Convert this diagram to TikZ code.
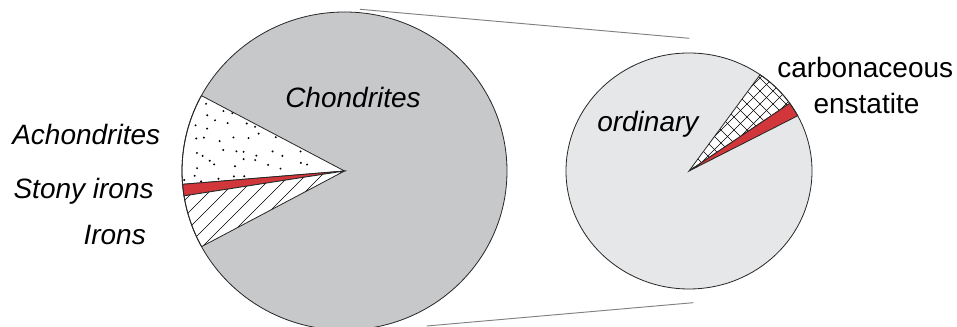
\documentclass[tikz,border=0pt]{standalone}
\usepackage{fontspec}
\setmainfont{Liberation Sans}
\definecolor{bigfill}{HTML}{C7C8CA}
\definecolor{smallfill}{HTML}{E6E7E8}
\definecolor{redfill}{HTML}{D0363A}
\begin{document}
\begin{tikzpicture}[x=0.75pt,y=0.75pt,
  outline/.style={draw=black!85,line width=0.6pt},
  zoomline/.style={draw=black!50,line width=0.7pt},
  hatchline/.style={draw=black,line width=0.45pt},
  lbl/.style={anchor=base west,inner sep=0pt,font=\fontsize{21}{25}\selectfont\itshape},
  lblup/.style={anchor=base west,inner sep=0pt,font=\fontsize{21}{25}\selectfont}]
\useasboundingbox (0,0) rectangle (957,327);
% zoom lines
\coordinate (z1) at (360,317.7);
\coordinate (z2) at (689.3,288.7);
\coordinate (z3) at (426.7,1);
\coordinate (z4) at (693.3,24.3);
\draw[zoomline] (z1) -- (z2);
\draw[zoomline] (z3) -- (z4);
% big pie
\coordinate (B) at (344.5,156);
\fill[bigfill] (B) ellipse [x radius=162.5, y radius=159];
% achondrites
\fill[white] (B) -- ++(151.7:162.5 and 159) arc[start angle=151.7,end angle=184.8,x radius=162.5,y radius=159] -- cycle;
\begin{scope}
  \clip (B) -- ++(151.7:162.5 and 159) arc[start angle=151.7,end angle=184.8,x radius=162.5,y radius=159] -- cycle;
  \pgfmathsetseed{17}
  \foreach \x in {180,193,...,345}{
    \foreach \y in {150,163,...,250}{
      \pgfmathsetmacro\dx{\x+5*rand}
      \pgfmathsetmacro\dy{\y+5*rand}
      \fill[black] (\dx,\dy) circle (1.1);
    }
  }
\end{scope}
\draw[outline] (B) -- ++(151.7:162.5 and 159) arc[start angle=151.7,end angle=184.8,x radius=162.5,y radius=159] -- cycle;
% stony irons
\fill[redfill] (B) -- ++(184.8:162.5 and 159) arc[start angle=184.8,end angle=189,x radius=162.5,y radius=159] -- cycle;
\draw[outline] (B) -- ++(184.8:162.5 and 159) arc[start angle=184.8,end angle=189,x radius=162.5,y radius=159] -- cycle;
% irons
\fill[white] (B) -- ++(189:162.5 and 159) arc[start angle=189,end angle=208.4,x radius=162.5,y radius=159] -- cycle;
\begin{scope}
  \clip (B) -- ++(189:162.5 and 159) arc[start angle=189,end angle=208.4,x radius=162.5,y radius=159] -- cycle;
  \foreach \c in {10,26,...,300}{
    \draw[hatchline] (\c+50,50) -- (\c+200,200);
  }
\end{scope}
\draw[outline] (B) -- ++(189:162.5 and 159) arc[start angle=189,end angle=208.4,x radius=162.5,y radius=159] -- cycle;
\draw[outline] (B) ellipse [x radius=162.5, y radius=159];
% small pie
\coordinate (S) at (689,156);
\fill[smallfill] (S) ellipse [x radius=123, y radius=118];
\fill[white] (S) -- ++(35:123 and 118) arc[start angle=35,end angle=54.7,x radius=123,y radius=118] -- cycle;
\begin{scope}
  \clip (S) -- ++(35:123 and 118) arc[start angle=35,end angle=54.7,x radius=123,y radius=118] -- cycle;
  \foreach \c in {420,433,...,660}{
    \draw[hatchline] (\c+140,140) -- (\c+280,280);
  }
  \foreach \d in {840,853,...,1080}{
    \draw[hatchline] (\d-140,140) -- (\d-280,280);
  }
\end{scope}
\draw[outline] (S) -- ++(35:123 and 118) arc[start angle=35,end angle=54.7,x radius=123,y radius=118] -- cycle;
\fill[redfill] (S) -- ++(27.9:123 and 118) arc[start angle=27.9,end angle=35,x radius=123,y radius=118] -- cycle;
\draw[outline] (S) -- ++(27.9:123 and 118) arc[start angle=27.9,end angle=35,x radius=123,y radius=118] -- cycle;
\draw[outline] (S) ellipse [x radius=123, y radius=118];
% labels
\node[lbl] (achondrites) at (12,182) {Achondrites};
\node[lbl] (stony) at (13.3,128) {Stony irons};
\node[lbl] (irons) at (83.3,82) {Irons};
\node[lbl] (chondrites) at (285,219) {Chondrites};
\node[lbl] (ordinary) at (597,195) {ordinary};
\node[lblup] (carbonaceous) at (777,249) {carbonaceous};
\node[lblup] (enstatite) at (813.3,213.7) {enstatite};
\end{tikzpicture}
\end{document}
